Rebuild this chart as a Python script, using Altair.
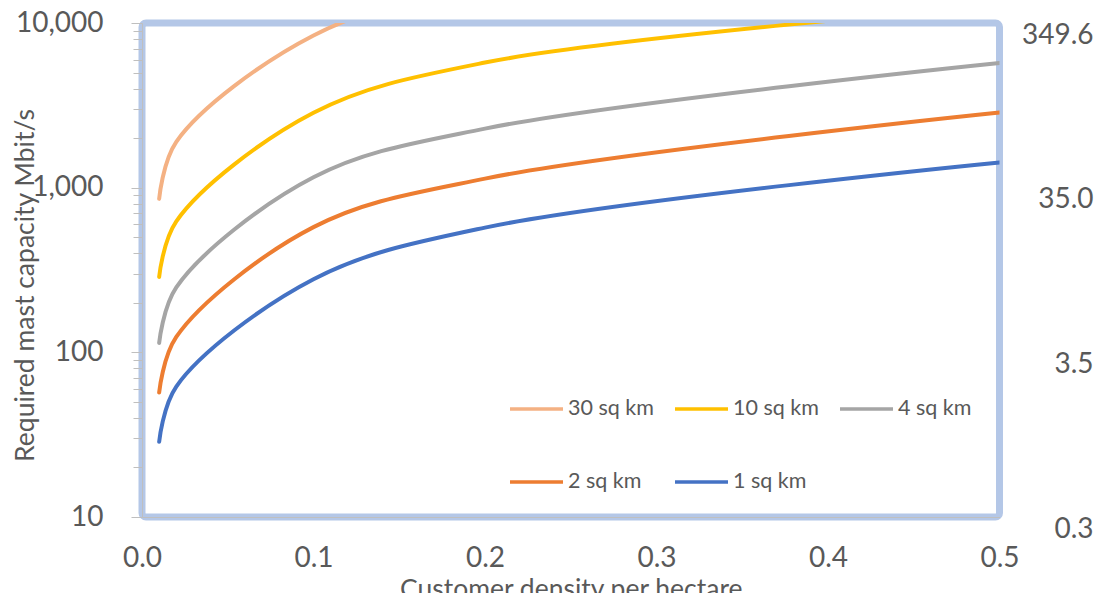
import altair as alt
import pandas as pd

# ---- data (knots of the smoothed curves) ----
density = [0.01, 0.02, 0.1, 0.2, 0.5]
series_names = ["30 sq km", "10 sq km", "4 sq km", "2 sq km", "1 sq km"]
series_colors = ["#F4B183", "#FFC000", "#A5A5A5", "#ED7D31", "#4472C4"]
cap_30 = [855, 1900, 8400, 17200, 43000]
cap_10 = [287, 625, 2850, 5750, 12800]
cap_4 = [114, 248, 1156, 2284, 5714]
cap_2 = [57, 124, 576, 1135, 2857]
cap_1 = [28.6, 62, 278, 572, 1422]

x_ticks = [0.0, 0.1, 0.2, 0.3, 0.4, 0.5]
y_major = [10, 100, 1000, 10000]
y_minor = [20, 30, 40, 50, 60, 70, 80, 90,
           200, 300, 400, 500, 600, 700, 800, 900,
           2000, 3000, 4000, 5000, 6000, 7000, 8000, 9000]
right_top_label = 349.6
right_divisor = 10000 / right_top_label

rows = []
for name, vals in zip(series_names, [cap_30, cap_10, cap_4, cap_2, cap_1]):
    for x, v in zip(density, vals):
        rows.append({"series": name, "density": x, "capacity": v})
df = pd.DataFrame(rows)

FONT = "Lato"
TXT = "#595959"
AXC = "#BFBFBF"

xscale = alt.Scale(domain=[0, 0.5], nice=False, zero=False)
yscale = alt.Scale(type="log", domain=[10, 10000], nice=False)

all_y = sorted(y_major + y_minor)
major_test = "indexof([10,100,1000,10000], datum.value) >= 0"

lines = alt.Chart(df).mark_line(
    clip=True, strokeWidth=4, interpolate="catmull-rom", strokeCap="round"
).encode(
    x=alt.X(
        "density:Q", scale=xscale,
        axis=alt.Axis(
            values=x_ticks, format=".1f", ticks=False, grid=False, labelFlush=False,
            domainColor=AXC, labelFont=FONT, labelFontSize=28, labelColor=TXT,
            labelPadding=27, title="Customer density per hectare",
            titleFont=FONT, titleFontSize=26.5, titleFontWeight="normal",
            titleColor=TXT, titleY=59, titleBaseline="top",
        ),
    ),
    y=alt.Y(
        "capacity:Q", scale=yscale,
        axis=alt.Axis(
            orient="left", values=all_y, grid=False,
            labelExpr=major_test + " ? format(datum.value, ',') : ''",
            tickSize={"condition": {"test": major_test, "value": 11}, "value": 9},
            tickColor=AXC, domainColor=AXC,
            labelFont=FONT, labelFontSize=28, labelColor=TXT, labelPadding=28,
            title="Required mast capacity Mbit/s", titleFont=FONT,
            titleFontSize=26.5, titleFontWeight="normal", titleColor=TXT,
            titleAngle=270, titleBaseline="middle", titleAlign="center",
            titleX=-116.5, titleY=262,
        ),
    ),
    color=alt.Color(
        "series:N",
        scale=alt.Scale(domain=series_names, range=series_colors),
        legend=alt.Legend(
            orient="none", legendX=366, legendY=357.5, direction="horizontal",
            columns=3, symbolType="stroke", symbolSize=2809,
            symbolStrokeWidth=3.5, labelFont=FONT, labelFontSize=21.5,
            labelColor=TXT, labelOffset=3, columnPadding=14, rowPadding=34,
            title=None, padding=0,
        ),
    ),
)

right = alt.Chart(pd.DataFrame({"v": y_major})).mark_point(opacity=0).encode(
    y=alt.Y(
        "v:Q", scale=yscale,
        axis=alt.Axis(
            orient="right", values=y_major, ticks=False, domain=False, grid=False,
            labelExpr=f"format(datum.value / {right_divisor}, '.1f')",
            labelFont=FONT, labelFontSize=28, labelColor=TXT,
            labelAlign="right", labelPadding=93.5, labelOffset=12, title="",
        ),
    ),
)

chart = alt.layer(lines, right).resolve_scale(y="independent").properties(
    width=857.5, height=494,
    autosize=alt.AutoSizeParams(type="none"),
    padding={"left": 134, "top": 15, "right": 94, "bottom": 76},
).configure_view(stroke="#B4C7E7", strokeWidth=7, cornerRadius=4)

chart.save("out.html", embed_options={"renderer": "svg", "actions": False})
